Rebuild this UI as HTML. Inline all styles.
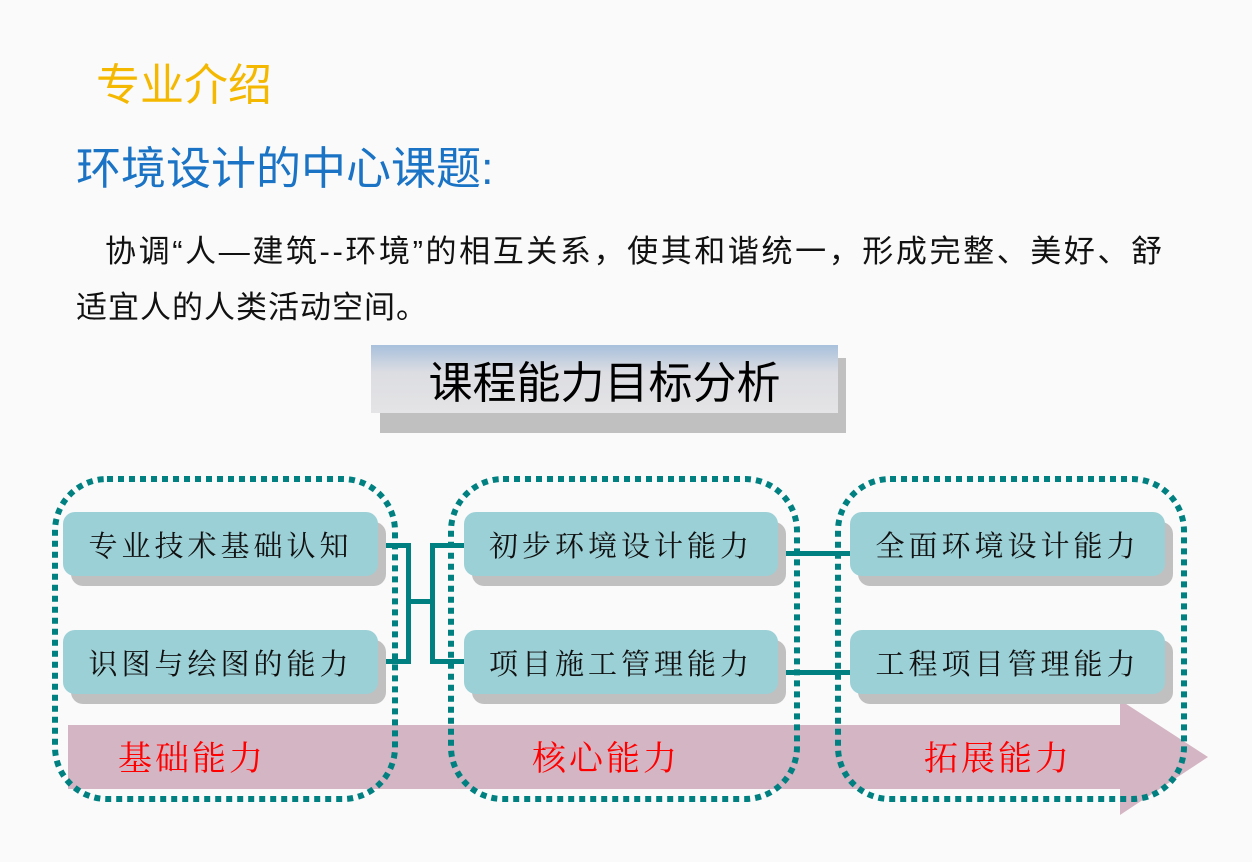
<!DOCTYPE html>
<html><head><meta charset="utf-8"><style>
body{margin:0;width:1252px;height:862px;background:#fafafa;position:relative;overflow:hidden;font-family:"Liberation Sans","Noto Sans CJK SC",sans-serif}
.a{position:absolute;white-space:nowrap}
.sh{position:absolute;background:#c0c0c0;border-radius:12px}
.nd{position:absolute;background:#9bd0d6;border-radius:12px;font-size:29px;letter-spacing:4px;color:#111;display:flex;align-items:center;justify-content:center;font-family:"Noto Serif CJK SC","Noto Sans CJK SC",serif}
.ln{position:absolute;background:#008080}
.red{position:absolute;color:#f00;font-size:34px;letter-spacing:3px;font-family:"Noto Serif CJK SC","Noto Sans CJK SC",serif}
</style></head><body>
<div class="a" style="left:96px;top:49px;font-size:44px;color:#f5b800">专业介绍</div>
<div class="a" style="left:76px;top:132px;font-size:45px;color:#1a73c4">环境设计的中心课题:</div>
<div class="a" style="left:105px;top:226px;font-size:31px;letter-spacing:2.6px;color:#111">协调“人—建筑--环境”的相互关系，使其和谐统一，形成完整、美好、舒</div>
<div class="a" style="left:76px;top:282px;font-size:31px;letter-spacing:1px;color:#111">适宜人的人类活动空间。</div>

<div style="position:absolute;left:380px;top:358px;width:466px;height:75px;background:#c0c0c0"></div>
<div style="position:absolute;left:371px;top:345px;width:467px;height:68px;background:linear-gradient(#a8c0dc,#dcdde2 40%,#e4e4e6)"></div>
<div class="a" style="left:371px;top:347px;width:467px;text-align:center;font-size:44px;color:#000">课程能力目标分析</div>

<svg style="position:absolute;left:0;top:0" width="1252" height="862">
<rect x="68" y="725" width="1054" height="64" fill="#d4b5c3"/>
<polygon points="1120,700 1208,757 1120,815" fill="#d4b5c3"/>
<g fill="none" stroke="#008080" stroke-width="6" stroke-dasharray="6 5">
<rect x="55" y="479" width="340" height="320" rx="52"/>
<rect x="451" y="479" width="346" height="320" rx="52"/>
<rect x="838" y="479" width="346" height="320" rx="52"/>
</g>
</svg>

<div class="ln" style="left:378px;top:543px;width:33px;height:5px"></div>
<div class="ln" style="left:378px;top:659px;width:33px;height:5px"></div>
<div class="ln" style="left:406px;top:543px;width:5px;height:121px"></div>
<div class="ln" style="left:406px;top:599px;width:28px;height:5px"></div>
<div class="ln" style="left:430px;top:543px;width:5px;height:121px"></div>
<div class="ln" style="left:430px;top:543px;width:36px;height:5px"></div>
<div class="ln" style="left:430px;top:659px;width:36px;height:5px"></div>
<div class="ln" style="left:778px;top:551px;width:74px;height:5px"></div>
<div class="ln" style="left:778px;top:670px;width:74px;height:5px"></div>

<div class="sh" style="left:71px;top:522px;width:315px;height:64px"></div>
<div class="sh" style="left:71px;top:640px;width:315px;height:64px"></div>
<div class="sh" style="left:472px;top:522px;width:314px;height:64px"></div>
<div class="sh" style="left:472px;top:640px;width:314px;height:64px"></div>
<div class="sh" style="left:858px;top:522px;width:315px;height:64px"></div>
<div class="sh" style="left:858px;top:640px;width:315px;height:64px"></div>

<div class="nd" style="left:63px;top:512px;width:315px;height:64px">专业技术基础认知</div>
<div class="nd" style="left:63px;top:630px;width:315px;height:64px">识图与绘图的能力</div>
<div class="nd" style="left:464px;top:512px;width:314px;height:64px">初步环境设计能力</div>
<div class="nd" style="left:464px;top:630px;width:314px;height:64px">项目施工管理能力</div>
<div class="nd" style="left:850px;top:512px;width:315px;height:64px">全面环境设计能力</div>
<div class="nd" style="left:850px;top:630px;width:315px;height:64px">工程项目管理能力</div>

<div class="red" style="left:118px;top:731px">基础能力</div>
<div class="red" style="left:532px;top:731px">核心能力</div>
<div class="red" style="left:924px;top:731px">拓展能力</div>
</body></html>
